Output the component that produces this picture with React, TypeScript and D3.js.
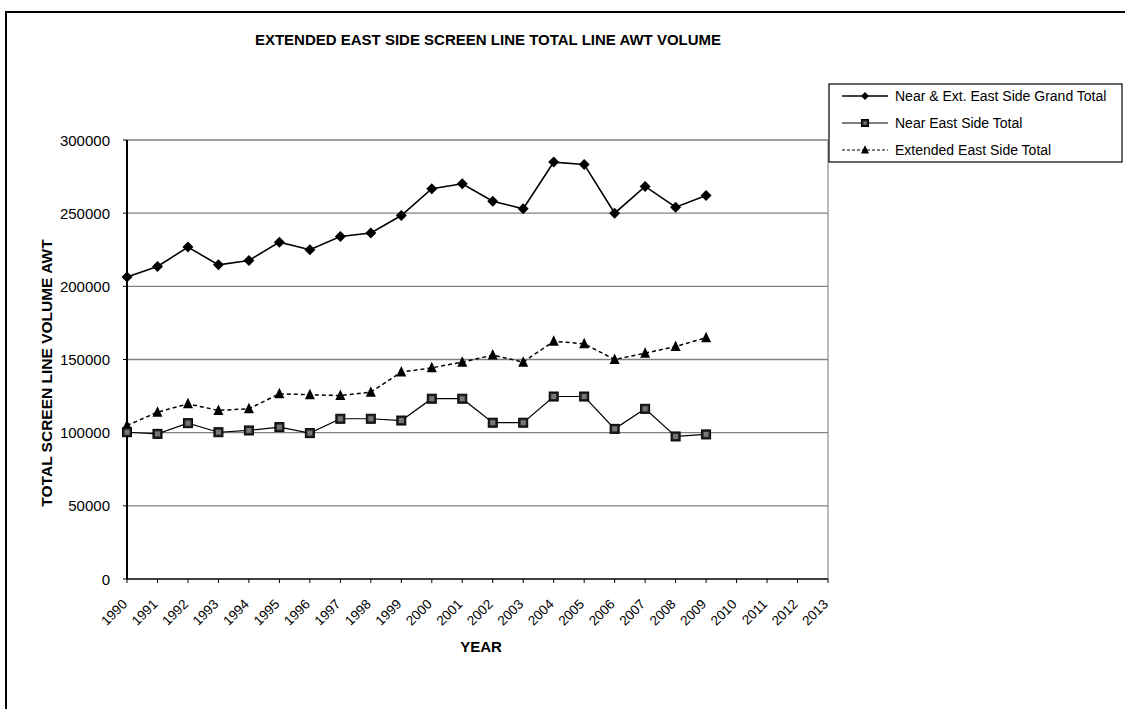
import React from "react";
import * as d3 from "d3";

const years = d3.range(1990, 2014);
const dataYears = d3.range(1990, 2010);
const grandTotal = [206300, 213600, 226800, 214700, 217700, 230200, 225000, 234100, 236400, 248400, 266700, 270100, 258200, 253000, 284900, 283300, 250000, 268300, 254100, 262100];
const nearTotal = [100300, 99200, 106500, 100300, 101500, 103800, 99700, 109500, 109500, 108300, 123200, 123200, 106800, 106800, 124700, 124700, 102600, 116300, 97400, 98800];
const extTotal = [104900, 114000, 119700, 115200, 116300, 126600, 125900, 125400, 127700, 141400, 144300, 148200, 153000, 148200, 162500, 160700, 150000, 154300, 158900, 164900];
const yTicks = [0, 50000, 100000, 150000, 200000, 250000, 300000];
const seriesNames = ["Near & Ext. East Side Grand Total", "Near East Side Total", "Extended East Side Total"];

const FONT = "Arial, 'Liberation Sans', Helvetica, sans-serif";

export default function App() {
  const W = 1125, H = 709;
  const left = 127, right = 828, top = 140, bottom = 579;
  const x = d3.scaleLinear().domain([1990, 2013]).range([left, right]);
  const y = d3.scaleLinear().domain([0, 300000]).range([bottom, top]);
  const line = d3.line<[number, number]>().x(d => x(d[0])).y(d => y(d[1]));
  const mk = (vals: number[]) => dataYears.map((yr, i) => [yr, vals[i]] as [number, number]);

  const diamond = (cx: number, cy: number, r: number, key: string) => (
    <path key={key} d={`M${cx},${cy - r}L${cx + r},${cy}L${cx},${cy + r}L${cx - r},${cy}Z`} fill="#000" />
  );
  const square = (cx: number, cy: number, s: number, key: string) => (
    <g key={key}>
      <rect x={cx - s / 2} y={cy - s / 2} width={s} height={s} fill="#222" stroke="#000" strokeWidth={1} />
      <rect x={cx - s / 2 + 2} y={cy - s / 2 + 2} width={s - 4} height={s - 4} fill="#777" />
    </g>
  );
  const triangle = (cx: number, cy: number, s: number, key: string) => (
    <path key={key} d={`M${cx},${cy - s * 0.6}L${cx + s / 2},${cy + s * 0.45}L${cx - s / 2},${cy + s * 0.45}Z`} fill="#000" />
  );

  const legX = 829, legY = 84, legW = 293, legH = 78;
  const legRows = [96, 123, 150];

  return (
    <svg width={W} height={H} style={{ display: "block", position: "absolute", left: 0, top: 0 }}>
      <rect x={0} y={0} width={W} height={H} fill="#fff" />
      {/* outer frame */}
      <path d={`M6,${H}L6,12L${W},12`} fill="none" stroke="#000" strokeWidth={2} />
      {/* title */}
      <text x={488} y={45} textAnchor="middle" fontFamily={FONT} fontWeight="bold" fontSize={15}>
        EXTENDED EAST SIDE SCREEN LINE TOTAL LINE AWT VOLUME
      </text>
      {/* gridlines */}
      {yTicks.filter(t => t > 0).map(t => (
        <line key={t} x1={left} x2={right} y1={y(t)} y2={y(t)} stroke="#808080" strokeWidth={1.4} />
      ))}
      {/* right plot border */}
      <line x1={right} x2={right} y1={top} y2={bottom} stroke="#777" strokeWidth={1} />
      {/* y axis */}
      <line x1={left} x2={left} y1={top} y2={bottom} stroke="#000" strokeWidth={2} />
      {yTicks.map(t => (
        <g key={t}>
          <line x1={left - 4} x2={left} y1={y(t)} y2={y(t)} stroke="#000" />
          <text x={110} y={y(t) + 5.5} textAnchor="end" fontFamily={FONT} fontSize={15}>{t}</text>
        </g>
      ))}
      {/* x axis */}
      <line x1={left} x2={right} y1={bottom} y2={bottom} stroke="#000" strokeWidth={1.5} />
      {years.map(yr => (
        <g key={yr}>
          <line x1={x(yr)} x2={x(yr)} y1={bottom} y2={bottom + 4} stroke="#000" />
          <text transform={`translate(${x(yr) + 1},${bottom + 26}) rotate(-45)`} textAnchor="end" fontFamily={FONT} fontSize={13.5}>{yr}</text>
        </g>
      ))}
      <text x={481} y={652} textAnchor="middle" fontFamily={FONT} fontWeight="bold" fontSize={15}>YEAR</text>
      <text transform={`translate(52,373) rotate(-90)`} textAnchor="middle" fontFamily={FONT} fontWeight="bold" fontSize={15.5}>TOTAL SCREEN LINE VOLUME AWT</text>

      {/* series */}
      <path d={line(mk(extTotal)) || ""} fill="none" stroke="#000" strokeWidth={1.5} strokeDasharray="4,3" />
      <path d={line(mk(nearTotal)) || ""} fill="none" stroke="#000" strokeWidth={1.2} />
      <path d={line(mk(grandTotal)) || ""} fill="none" stroke="#000" strokeWidth={1.6} />
      {dataYears.map((yr, i) => triangle(x(yr), y(extTotal[i]), 10, "t" + yr))}
      {dataYears.map((yr, i) => square(x(yr), y(nearTotal[i]), 9, "s" + yr))}
      {dataYears.map((yr, i) => diamond(x(yr), y(grandTotal[i]), 5.5, "d" + yr))}

      {/* legend */}
      <rect x={legX} y={legY} width={legW} height={legH} fill="#fff" stroke="#000" strokeWidth={1.2} />
      <line x1={842} x2={888} y1={legRows[0]} y2={legRows[0]} stroke="#000" strokeWidth={1.5} />
      {diamond(865, legRows[0], 4, "ld")}
      <line x1={842} x2={888} y1={legRows[1]} y2={legRows[1]} stroke="#000" strokeWidth={1.2} />
      {square(865, legRows[1], 7, "ls")}
      <line x1={842} x2={888} y1={legRows[2]} y2={legRows[2]} stroke="#000" strokeWidth={1.2} strokeDasharray="3,2" />
      {triangle(865, legRows[2], 8, "lt")}
      {seriesNames.map((n, i) => (
        <text key={n} x={895} y={legRows[i] + 5} fontFamily={FONT} fontSize={14}>{n}</text>
      ))}
    </svg>
  );
}
